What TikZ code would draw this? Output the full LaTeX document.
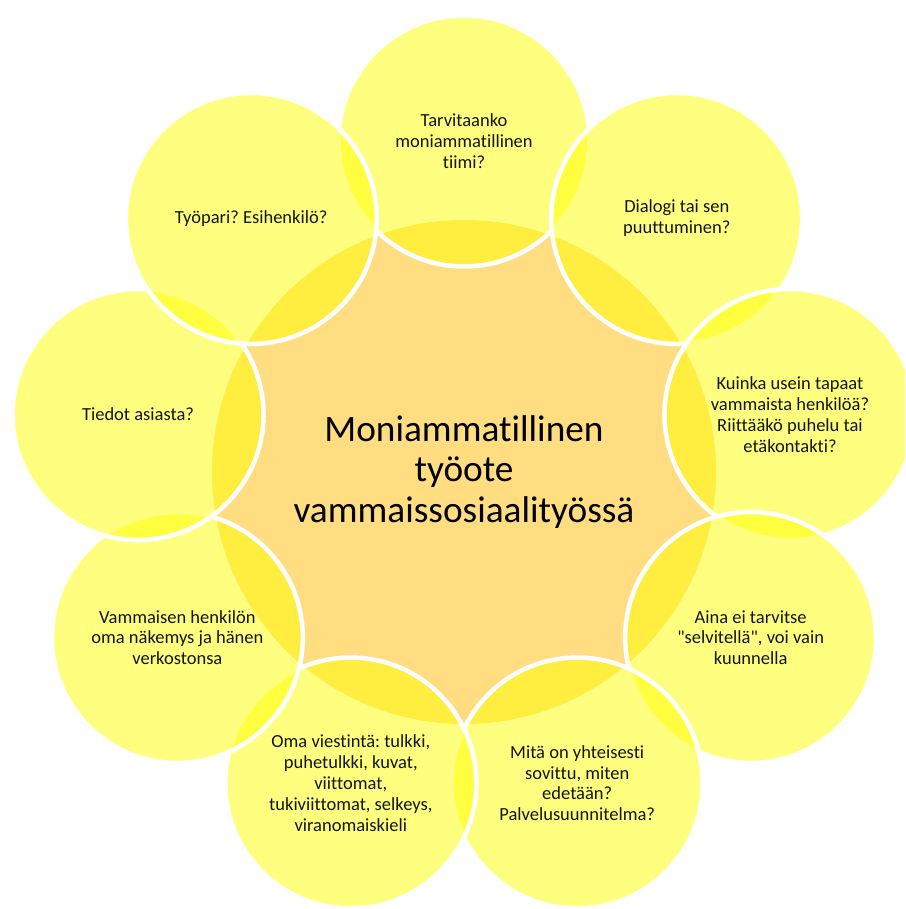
\documentclass[tikz,border=0pt]{standalone}
\usepackage{fontspec}
\setmainfont{Carlito}[Ligatures={TeXOff,NoCommon}]
\usetikzlibrary{calc}
\definecolor{outerfill}{RGB}{255,255,0}
\definecolor{centerfill}{RGB}{255,221,128}
\definecolor{txt}{RGB}{20,20,20}
\frenchspacing
\begin{document}
\begin{tikzpicture}[x=1pt,y=-1pt,
  ring/.style={circle, minimum size=251pt, inner sep=0pt, fill=outerfill, fill opacity=0.5, draw=white, draw opacity=1, line width=4.5pt},
  hub/.style={circle, minimum size=504pt, inner sep=0pt, fill=centerfill},
  lbl/.style={align=center, font=\fontsize{18.5}{20.8}\selectfont, text=txt},
  hublbl/.style={align=center, font=\fontsize{37.3}{40.8}\selectfont, text=black}]
\useasboundingbox (0,0) rectangle (905,909);
\clip (0,0) rectangle (905,909);
\coordinate (o) at (464,472);
\node[hub] (hub) at (o) {};
\node[ring] (c1) at ($(o)+(-90:331)$) {};
\node[ring] (c2) at ($(o)+(-50:331)$) {};
\node[ring] (c3) at ($(o)+(-10:331)$) {};
\node[ring] (c4) at ($(o)+(30:331)$) {};
\node[ring] (c5) at ($(o)+(70:331)$) {};
\node[ring] (c6) at ($(o)+(110:331)$) {};
\node[ring] (c7) at ($(o)+(150:331)$) {};
\node[ring] (c8) at ($(o)+(190:331)$) {};
\node[ring] (c9) at ($(o)+(230:331)$) {};
\node[hublbl] (th) at (hub.center) {Moniammatillinen\\työote\\vammaissosiaalityössä};
\node[lbl] (t1) at (c1.center) {Tarvitaanko\\moniammatillinen\\tiimi?};
\node[lbl] (t2) at (c2.center) {Dialogi tai sen\\puuttuminen?};
\node[lbl] (t3) at (c3.center) {Kuinka usein tapaat\\vammaista henkilöä?\\Riittääkö puhelu tai\\etäkontakti?};
\node[lbl] (t4) at (c4.center) {Aina ei tarvitse\\"selvitellä", voi vain\\kuunnella};
\node[lbl] (t5) at (c5.center) {Mitä on yhteisesti\\sovittu, miten\\edetään?\\Palvelusuunnitelma?};
\node[lbl] (t6) at (c6.center) {Oma viestintä: tulkki,\\puhetulkki, kuvat,\\viittomat,\\tukiviittomat, selkeys,\\viranomaiskieli};
\node[lbl] (t7) at (c7.center) {Vammaisen henkilön\\oma näkemys ja hänen\\verkostonsa};
\node[lbl] (t8) at (c8.center) {Tiedot asiasta?};
\node[lbl] (t9) at (c9.center) {Työpari? Esihenkilö?};
\end{tikzpicture}
\end{document}
